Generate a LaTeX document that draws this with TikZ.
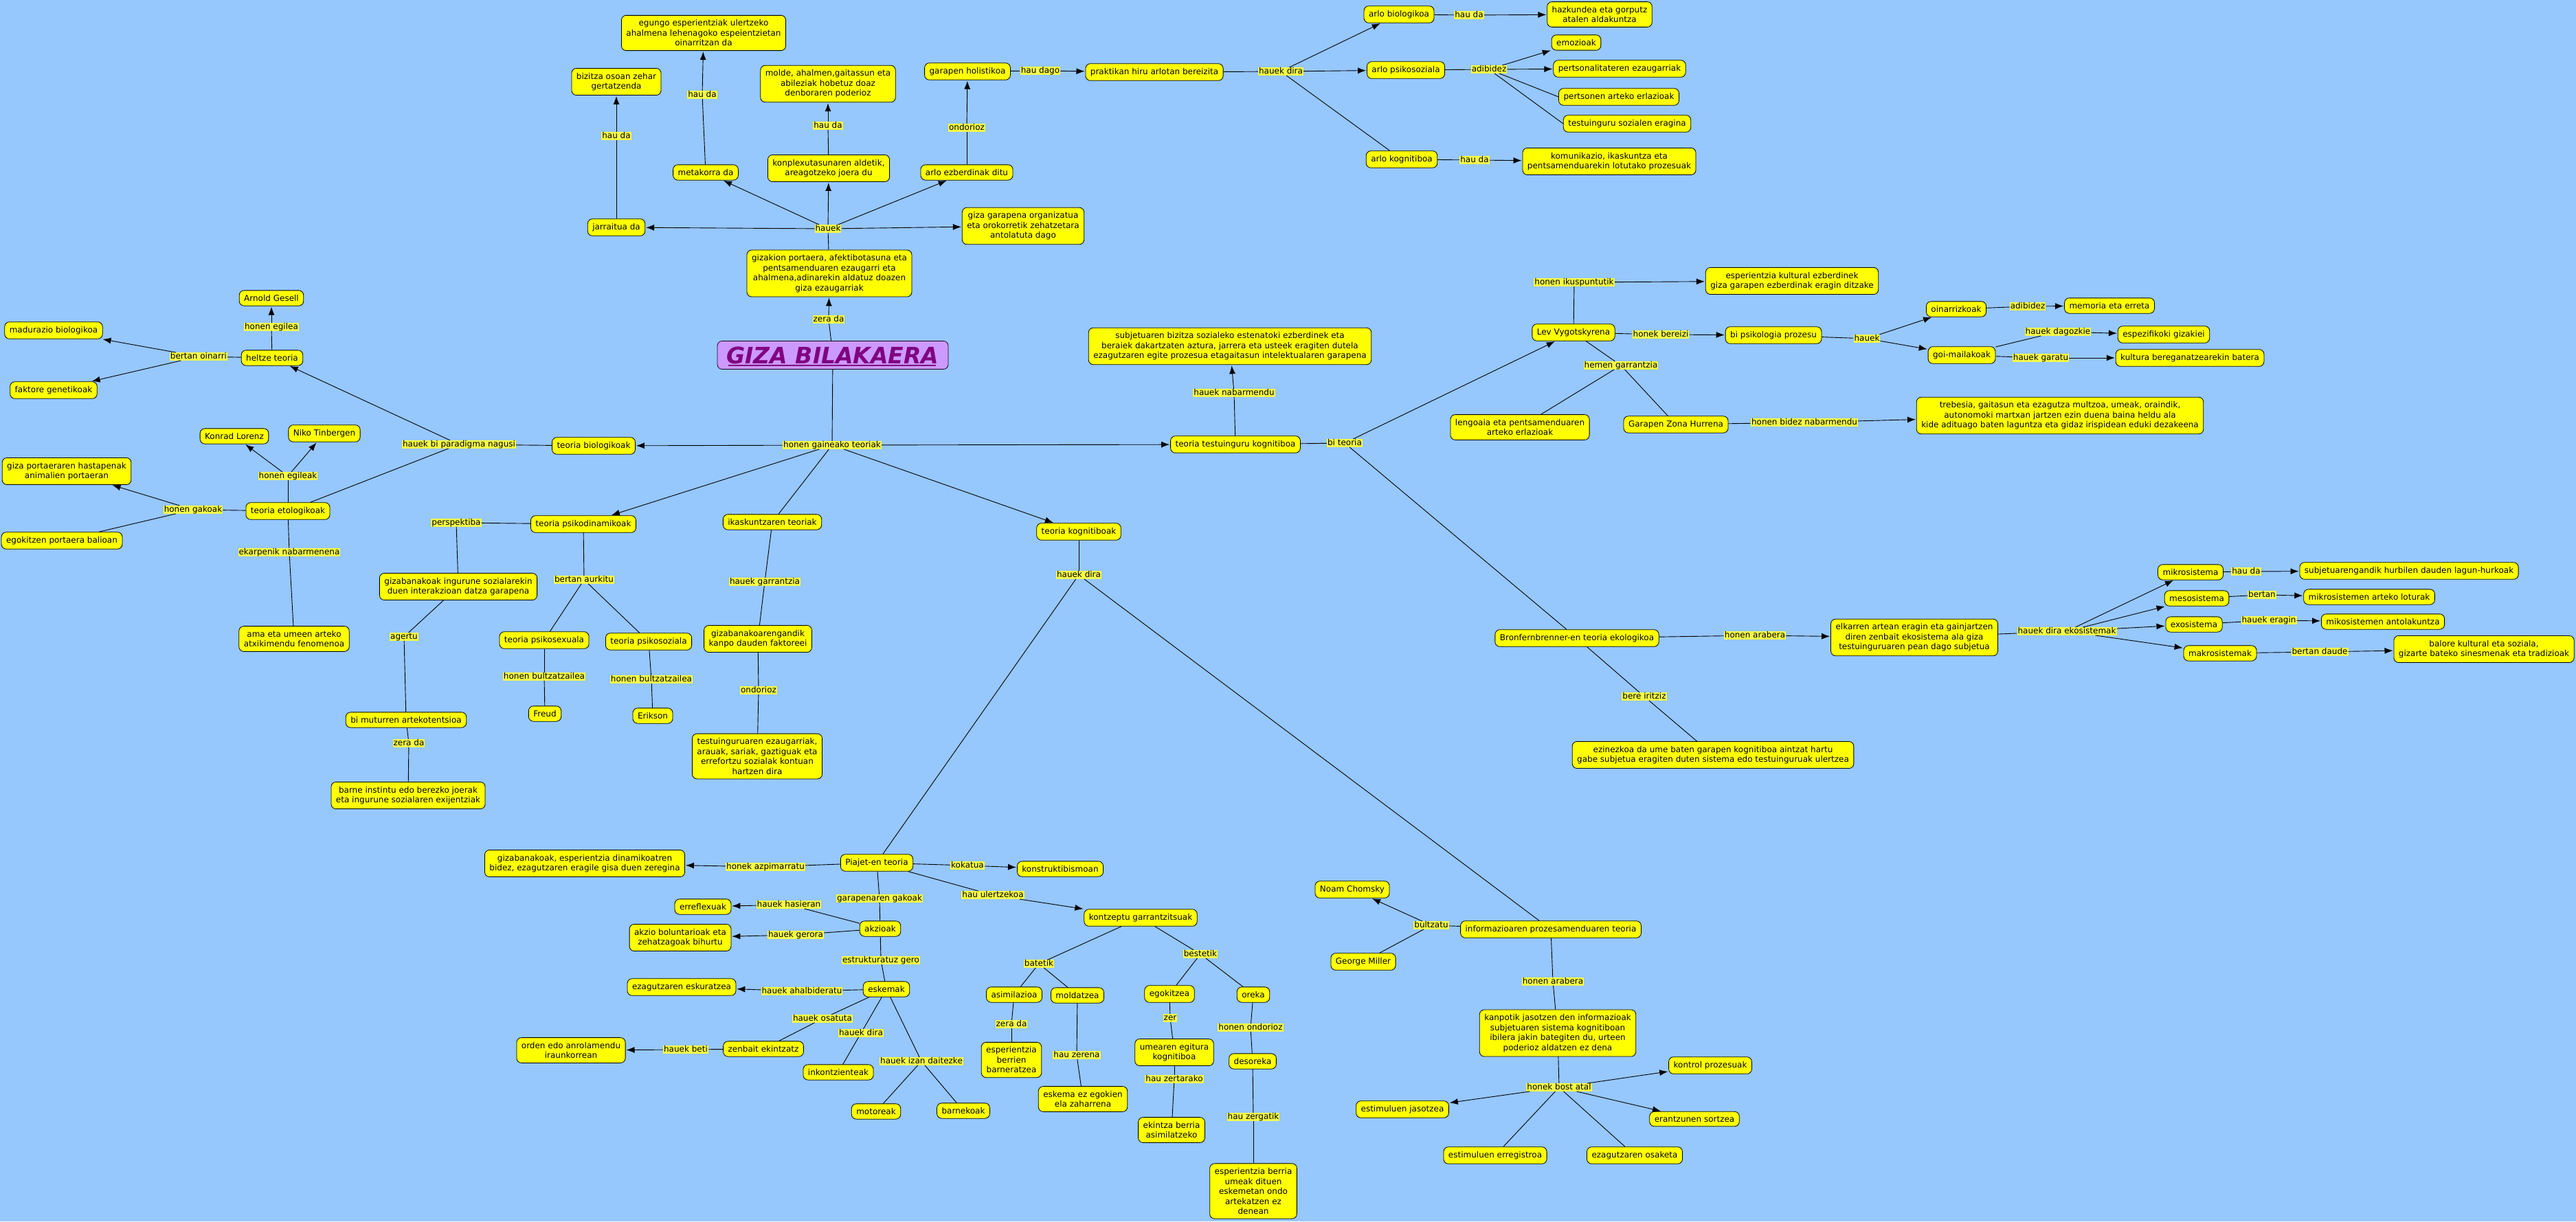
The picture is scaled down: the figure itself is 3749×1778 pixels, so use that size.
\documentclass[tikz,border=0pt]{standalone}
\usepackage{fontspec}
\setmainfont{DejaVu Sans}
\usetikzlibrary{arrows.meta,calc}
\definecolor{bgblue}{RGB}{150,199,253}
\definecolor{cyel}{RGB}{255,255,0}
\definecolor{lyel}{RGB}{245,250,70}
\definecolor{gizafill}{RGB}{204,153,255}
\definecolor{gizatext}{RGB}{128,0,128}
\newcommand{\cfont}{\fontsize{12}{14.5}\selectfont}
\newcommand{\gfont}{\fontsize{33}{38}\selectfont\bfseries\itshape}
\tikzset{
  concept/.style={draw=black, line width=0.8pt, fill=cyel, rounded corners=7pt,
    inner xsep=7pt, inner ysep=6.5pt, align=center, font=\cfont},
  lab/.style={fill=lyel, inner xsep=1pt, inner ysep=0pt, text height=9pt,
    text depth=2.5pt, font=\cfont},
  con/.style={draw=black, line width=0.9pt},
  arr/.style={con, -{Latex[length=12pt,width=9pt]}, shorten >=1pt},
}
\begin{document}
\begin{tikzpicture}[x=1pt,y=-1pt]
\useasboundingbox (0,0) rectangle (3749,1778);
\fill[bgblue] (0,0) rectangle (3749,1778);

% ---------- top cluster ----------
\node[concept] (bizitza) at (897,119) {bizitza osoan zehar\\gertatzenda};
\node[lab] (lhauda1) at (897,198) {hau da};
\node[concept] (jarraitua) at (897,331) {jarraitua da};
\node[concept] (egungo) at (1024,48) {egungo esperientziak ulertzeko\\ahalmena lehenagoko espeientzietan\\oinarritzan da};
\node[lab] (lhauda2) at (1022,138) {hau da};
\node[concept] (metakorra) at (1027,251) {metakorra da};
\node[concept] (molde) at (1205,122) {molde, ahalmen,gaitassun eta\\abileziak hobetuz doaz\\denboraren poderioz};
\node[lab] (lhauda3) at (1205,183) {hau da};
\node[concept] (konplex) at (1206,245) {konplexutasunaren aldetik,\\areagotzeko joera du};
\node[concept] (holistikoa) at (1408,104) {garapen holistikoa};
\node[lab] (lhaudago) at (1514,103) {hau dago};
\node[concept] (praktikan) at (1680,105) {praktikan hiru arlotan bereizita};
\node[lab] (londorioz1) at (1407,186) {ondorioz};
\node[concept] (arloezb) at (1407,251) {arlo ezberdinak ditu};
\node[lab] (lhauek1) at (1205,333) {hauek};
\node[concept] (organizatua) at (1489,329) {giza garapena organizatua\\eta orokorretik zehatzetara\\antolatuta dago};
\node[concept] (gizakion) at (1207,398) {gizakion portaera, afektibotasuna eta\\pentsamenduaren ezaugarri eta\\ahalmena,adinarekin aldatuz doazen\\giza ezaugarriak};
\node[lab] (lzerada1) at (1206,465) {zera da};
\node[concept, fill=gizafill, draw=black!80!gizatext, minimum width=336pt, minimum height=41pt, font=\gfont, text=gizatext, inner ysep=2pt] (giza) at (1212,517) {GIZA BILAKAERA};
\draw[gizatext, line width=2pt] ($(giza.base)+(-152,3)$) -- ($(giza.base)+(150,3)$);

% ---------- arlo cluster ----------
\node[lab] (lhauekdira1) at (1864,104) {hauek dira};
\node[concept] (arlobio) at (2036,21) {arlo biologikoa};
\node[lab] (lhauda4) at (2138,22) {hau da};
\node[concept] (hazkundea) at (2328,21) {hazkundea eta gorputz\\atalen aldakuntza};
\node[concept] (arlopsi) at (2046,102) {arlo psikosoziala};
\node[lab] (ladibidez1) at (2167,101) {adibidez};
\node[concept] (emozioak) at (2294,62) {emozioak};
\node[concept] (pertsonalitate) at (2357,100) {pertsonalitateren ezaugarriak};
\node[concept] (pertsonen) at (2356,141) {pertsonen arteko erlazioak};
\node[concept] (testsoz) at (2368,180) {testuinguru sozialen eragina};
\node[concept] (arlokog) at (2040,232) {arlo kognitiboa};
\node[lab] (lhauda5) at (2146,233) {hau da};
\node[concept] (komunikazio) at (2342,235) {komunikazio, ikaskuntza eta\\pentsamenduarekin lotutako prozesuak};

% ---------- theories ----------
\node[lab] (lgaineako) at (1211,648) {honen gaineako teoriak};
\node[concept] (biologikoak) at (864,649) {teoria biologikoak};
\node[concept] (testkog) at (1798,647) {teoria testuinguru kognitiboa};
\node[concept] (psikodin) at (849,763) {teoria psikodinamikoak};
\node[concept] (ikaskuntza) at (1124,760) {ikaskuntzaren teoriak};
\node[concept] (kognitiboak) at (1570,774) {teoria kognitiboak};
\node[lab] (lhauekgarr) at (1113,847) {hauek garrantzia};
\node[concept] (gizabkanpo) at (1103,930) {gizabanakoarengandik\\kanpo dauden faktoreei};
\node[lab] (londorioz2) at (1104,1005) {ondorioz};
\node[concept] (testezaug) at (1102,1101) {testuinguruaren ezaugarriak,\\arauak, sariak, gaztiguak eta\\errefortzu sozialak kontuan\\hartzen dira};

\node[lab] (lparadigma) at (668,647) {hauek bi paradigma nagusi};
\node[concept] (heltze) at (396,521) {heltze teoria};
\node[lab] (lhonenegilea) at (395,476) {honen egilea};
\node[concept] (gesell) at (395,434) {Arnold Gesell};
\node[lab] (loinarri) at (289,519) {bertan oinarri};
\node[concept] (madurazio) at (78,481) {madurazio biologikoa};
\node[concept] (faktore) at (78,568) {faktore genetikoak};
\node[concept] (lorenz) at (341,635) {Konrad Lorenz};
\node[concept] (tinbergen) at (472,631) {Niko Tinbergen};
\node[lab] (legileak) at (419,693) {honen egileak};
\node[concept] (etologikoak) at (419,744) {teoria etologikoak};
\node[lab] (lgakoak) at (281,742) {honen gakoak};
\node[concept] (hastapenak) at (97,686) {giza portaeraren hastapenak\\animalien portaeran};
\node[concept] (egokitzen) at (90,787) {egokitzen portaera balioan};
\node[lab] (lekarpenik) at (421,804) {ekarpenik nabarmenena};
\node[concept] (atxikimendu) at (428,930) {ama eta umeen arteko\\atxikimendu fenomenoa};
\node[lab] (lperspektiba) at (664,761) {perspektiba};
\node[concept] (gizabingurune) at (667,854) {gizabanakoak ingurune sozialarekin\\duen interakzioan datza garapena};
\node[lab] (laurkitu) at (850,844) {bertan aurkitu};
\node[lab] (lagertu) at (588,927) {agertu};
\node[concept] (psikosexuala) at (792,932) {teoria psikosexuala};
\node[lab] (lbultz1) at (792,985) {honen bultzatzailea};
\node[concept] (freud) at (793,1039) {Freud};
\node[concept] (psikosoziala) at (944,934) {teoria psikosoziala};
\node[lab] (lbultz2) at (948,989) {honen bultzatzailea};
\node[concept] (erikson) at (950,1042) {Erikson};
\node[concept] (muturren) at (591,1048) {bi muturren artekotentsioa};
\node[lab] (lzerada2) at (595,1082) {zera da};
\node[concept] (barne) at (594,1158) {barne instintu edo berezko joerak\\eta ingurune sozialaren exijentziak};

% ---------- cognitive ----------
\node[lab] (lhauekdira2) at (1570,837) {hauek dira};
\node[concept] (piajet) at (1276,1256) {Piajet-en teoria};
\node[lab] (lazpim) at (1114,1262) {honek azpimarratu};
\node[concept] (dinamiko) at (851,1257) {gizabanakoak, esperientzia dinamikoatren\\bidez, ezagutzaren eragile gisa duen zeregina};
\node[lab] (lkokatua) at (1408,1260) {kokatua};
\node[concept] (konstrukt) at (1543,1265) {konstruktibismoan};
\node[lab] (lgakoak2) at (1280,1308) {garapenaren gakoak};
\node[lab] (lulertzekoa) at (1445,1303) {hau ulertzekoa};
\node[concept] (kontzeptu) at (1660,1336) {kontzeptu garrantzitsuak};
\node[concept] (erreflexuak) at (1023,1320) {erreflexuak};
\node[lab] (lhasieran) at (1148,1317) {hauek hasieran};
\node[concept] (akzioak) at (1281,1352) {akzioak};
\node[lab] (lgerora) at (1158,1361) {hauek gerora};
\node[concept] (boluntario) at (990,1365) {akzio boluntarioak eta\\zehatzagoak bihurtu};
\node[lab] (lestrukt) at (1282,1398) {estrukturatuz gero};
\node[concept] (eskemak) at (1290,1440) {eskemak};
\node[lab] (lahalb) at (1167,1443) {hauek ahalbideratu};
\node[concept] (eskuratzea) at (992,1437) {ezagutzaren eskuratzea};
\node[lab] (losatuta) at (1197,1483) {hauek osatuta};
\node[lab] (ldira3) at (1253,1504) {hauek dira};
\node[concept] (zenbait) at (1111,1527) {zenbait ekintzatz};
\node[lab] (lbeti) at (998,1528) {hauek beti};
\node[concept] (orden) at (831,1529) {orden edo anrolamendu\\iraunkorrean};
\node[concept] (inkontz) at (1220,1561) {inkontzienteak};
\node[lab] (ldaitezke) at (1341,1545) {hauek izan daitezke};
\node[concept] (motoreak) at (1275,1618) {motoreak};
\node[concept] (barnekoak) at (1402,1617) {barnekoak};
\node[lab] (lbatetik) at (1512,1403) {batetik};
\node[lab] (lbestetik) at (1747,1389) {bestetik};
\node[concept] (asimilazioa) at (1476,1448) {asimilazioa};
\node[concept] (moldatzea) at (1568,1449) {moldatzea};
\node[lab] (lzerada3) at (1472,1491) {zera da};
\node[concept] (barneratzea) at (1472,1543) {esperientzia\\berrien\\barneratzea};
\node[lab] (lzerena) at (1567,1536) {hau zerena};
\node[concept] (ezegokien) at (1576,1600) {eskema ez egokien\\ela zaharrena};
\node[concept] (egokitzea) at (1702,1447) {egokitzea};
\node[lab] (lzer) at (1703,1482) {zer};
\node[concept] (egitura) at (1709,1532) {umearen egitura\\kognitiboa};
\node[lab] (lzertarako) at (1709,1571) {hau zertarako};
\node[concept] (ekintzaberria) at (1705,1645) {ekintza berria\\asimilatzeko};
\node[concept] (oreka) at (1824,1448) {oreka};
\node[lab] (londorioz3) at (1820,1496) {honen ondorioz};
\node[concept] (desoreka) at (1823,1545) {desoreka};
\node[lab] (lzergatik) at (1824,1626) {hau zergatik};
\node[concept] (espberria) at (1824,1734) {esperientzia berria\\umeak dituen\\eskemetan ondo\\artekatzen ez\\denean};

% ---------- information processing ----------
\node[concept] (informazio) at (2257,1353) {informazioaren prozesamenduaren teoria};
\node[lab] (lbultzatu) at (2083,1347) {bultzatu};
\node[concept] (chomsky) at (1968,1295) {Noam Chomsky};
\node[concept] (miller) at (1984,1400) {George Miller};
\node[lab] (larabera1) at (2260,1429) {honen arabera};
\node[concept] (kanpotik) at (2267,1504) {kanpotik jasotzen den informazioak\\subjetuaren sistema kognitiboan\\ibilera jakin bategiten du, urteen\\poderioz aldatzen ez dena};
\node[lab] (lbost) at (2269,1583) {honek bost atal};
\node[concept] (kontrol) at (2489,1551) {kontrol prozesuak};
\node[concept] (jasotzea) at (2041,1615) {estimuluen jasotzea};
\node[concept] (sortzea) at (2466,1629) {erantzunen sortzea};
\node[concept] (erregistroa) at (2176,1682) {estimuluen erregistroa};
\node[concept] (osaketa) at (2379,1682) {ezagutzaren osaketa};

% ---------- context theories ----------
\node[lab] (lnabarmendu) at (1796,572) {hauek nabarmendu};
\node[concept] (subjetuaren) at (1790,504) {subjetuaren bizitza sozialeko estenatoki ezberdinek eta\\beraiek dakartzaten aztura, jarrera eta usteek eragiten dutela\\ezagutzaren egite prozesua etagaitasun intelektualaren garapena};
\node[lab] (lbiteoria) at (1957,645) {bi teoria};
\node[concept] (lev) at (2290,484) {Lev Vygotskyrena};
\node[lab] (likuspuntutik) at (2291,411) {honen ikuspuntutik};
\node[concept] (kultural) at (2608,409) {esperientzia kultural ezberdinek\\giza garapen ezberdinak eragin ditzake};
\node[lab] (lbereizi) at (2417,487) {honek bereizi};
\node[concept] (biprozesu) at (2581,488) {bi psikologia prozesu};
\node[lab] (lhauek2) at (2717,493) {hauek};
\node[concept] (oinarrizkoak) at (2847,450) {oinarrizkoak};
\node[lab] (ladibidez2) at (2951,446) {adibidez};
\node[concept] (memoria) at (3070,445) {memoria eta erreta};
\node[concept] (goimaila) at (2855,517) {goi-mailakoak};
\node[lab] (ldagozkie) at (2995,483) {hauek dagozkie};
\node[concept] (espezifikoki) at (3149,487) {espezifikoki gizakiei};
\node[lab] (lgaratu) at (2970,521) {hauek garatu};
\node[concept] (kultura) at (3187,521) {kultura bereganatzearekin batera};
\node[lab] (lgarrantzia2) at (2359,532) {hemen garrantzia};
\node[concept] (lengoaia) at (2212,622) {lengoaia eta pentsamenduaren\\arteko erlazioak};
\node[concept] (zona) at (2439,618) {Garapen Zona Hurrena};
\node[lab] (lbidez) at (2626,615) {honen bidez nabarmendu};
\node[concept] (trebesia) at (2998,605) {trebesia, gaitasun eta ezagutza multzoa, umeak, oraindik,\\autonomoki martxan jartzen ezin duena baina heldu ala\\kide adituago baten laguntza eta gidaz irispidean eduki dezakeena};
\node[concept] (bronf) at (2295,929) {Bronfernbrenner-en teoria ekologikoa};
\node[lab] (larabera2) at (2554,925) {honen arabera};
\node[concept] (elkarren) at (2786,928) {elkarren artean eragin eta gainjartzen\\diren zenbait ekosistema ala giza\\testuinguruaren pean dago subjetua};
\node[lab] (liritziz) at (2393,1014) {bere iritziz};
\node[concept] (ezinezkoa) at (2493,1099) {ezinezkoa da ume baten garapen kognitiboa aintzat hartu\\gabe subjetua eragiten duten sistema edo testuinguruak ulertzea};
\node[lab] (lekosist) at (3008,919) {hauek dira ekosistemak};
\node[concept] (mikro) at (3188,833) {mikrosistema};
\node[lab] (lhauda6) at (3269,832) {hau da};
\node[concept] (lagun) at (3506,831) {subjetuarengandik hurbilen dauden lagun-hurkoak};
\node[concept] (meso) at (3197,871) {mesosistema};
\node[lab] (lbertan) at (3292,866) {bertan};
\node[concept] (loturak) at (3448,869) {mikrosistemen arteko loturak};
\node[concept] (exo) at (3193,909) {exosistema};
\node[lab] (leragin) at (3302,903) {hauek eragin};
\node[concept] (antolak) at (3468,905) {mikosistemen antolakuntza};
\node[concept] (makro) at (3231,951) {makrosistemak};
\node[lab] (ldaude) at (3376,949) {bertan daude};
\node[concept] (balore) at (3615,945) {balore kultural eta soziala,\\gizarte bateko sinesmenak eta tradizioak};

% ================= connectors =================
\draw[con] (giza) -- (lzerada1); \draw[arr] (lzerada1) -- (gizakion);
\draw[con] (gizakion) -- (lhauek1);
\draw[arr] (lhauek1) -- (metakorra);
\draw[arr] (lhauek1) -- (konplex);
\draw[arr] (lhauek1) -- (arloezb);
\draw[arr] (lhauek1) -- (jarraitua);
\draw[arr] (lhauek1) -- (organizatua);
\draw[con] (jarraitua) -- (lhauda1); \draw[arr] (lhauda1) -- (bizitza);
\draw[con] (metakorra) -- (lhauda2); \draw[arr] (lhauda2) -- (egungo);
\draw[con] (konplex) -- (lhauda3); \draw[arr] (lhauda3) -- (molde);
\draw[con] (arloezb) -- (londorioz1); \draw[arr] (londorioz1) -- (holistikoa);
\draw[con] (holistikoa) -- (lhaudago); \draw[arr] (lhaudago) -- (praktikan);
\draw[con] (praktikan) -- (lhauekdira1);
\draw[arr] (lhauekdira1) -- (arlobio);
\draw[arr] (lhauekdira1) -- (arlopsi);
\draw[con] (lhauekdira1) -- (arlokog);
\draw[con] (arlobio) -- (lhauda4); \draw[arr] (lhauda4) -- (hazkundea);
\draw[con] (arlopsi) -- (ladibidez1);
\draw[arr] (ladibidez1) -- (emozioak);
\draw[arr] (ladibidez1) -- (pertsonalitate);
\draw[con] (ladibidez1) -- (pertsonen.west);
\draw[con] (ladibidez1) -- (testsoz.west);
\draw[con] (arlokog) -- (lhauda5); \draw[arr] (lhauda5) -- (komunikazio);

\draw[con] (giza) -- (lgaineako);
\draw[arr] (lgaineako) -- (biologikoak);
\draw[arr] (lgaineako) -- (testkog);
\draw[arr] (lgaineako) -- (psikodin);
\draw[con] (lgaineako) -- (ikaskuntza);
\draw[arr] (lgaineako) -- (kognitiboak);

\draw[con] (biologikoak) -- (lparadigma);
\draw[arr] (lparadigma) -- (heltze);
\draw[con] (lparadigma) -- (etologikoak);
\draw[con] (heltze) -- (lhonenegilea); \draw[arr] (lhonenegilea) -- (gesell);
\draw[con] (heltze) -- (loinarri);
\draw[arr] (loinarri) -- (madurazio);
\draw[arr] (loinarri) -- (faktore);
\draw[con] (etologikoak) -- (legileak);
\draw[arr] (legileak) -- (lorenz);
\draw[arr] (legileak) -- (tinbergen);
\draw[con] (etologikoak) -- (lgakoak);
\draw[arr] (lgakoak) -- (hastapenak);
\draw[con] (lgakoak) -- (egokitzen);
\draw[con] (etologikoak) -- (lekarpenik); \draw[con] (lekarpenik) -- (atxikimendu);

\draw[con] (psikodin) -- (lperspektiba); \draw[con] (lperspektiba) -- (gizabingurune);
\draw[con] (gizabingurune) -- (lagertu); \draw[con] (lagertu) -- (muturren);
\draw[con] (muturren) -- (lzerada2); \draw[con] (lzerada2) -- (barne);
\draw[con] (psikodin) -- (laurkitu);
\draw[con] (laurkitu) -- (psikosexuala);
\draw[con] (laurkitu) -- (psikosoziala);
\draw[con] (psikosexuala) -- (lbultz1); \draw[con] (lbultz1) -- (freud);
\draw[con] (psikosoziala) -- (lbultz2); \draw[con] (lbultz2) -- (erikson);

\draw[con] (ikaskuntza) -- (lhauekgarr); \draw[con] (lhauekgarr) -- (gizabkanpo);
\draw[con] (gizabkanpo) -- (londorioz2); \draw[con] (londorioz2) -- (testezaug);

\draw[con] (kognitiboak) -- (lhauekdira2);
\draw[con] (lhauekdira2) -- (piajet);
\draw[con] (lhauekdira2) -- (informazio);
\draw[con] (piajet) -- (lazpim); \draw[arr] (lazpim) -- (dinamiko);
\draw[con] (piajet) -- (lkokatua); \draw[arr] (lkokatua) -- (konstrukt);
\draw[con] (piajet) -- (lulertzekoa); \draw[arr] (lulertzekoa) -- (kontzeptu);
\draw[con] (piajet) -- (lgakoak2); \draw[con] (lgakoak2) -- (akzioak);
\draw[con] (akzioak) -- (lhasieran); \draw[arr] (lhasieran) -- (erreflexuak);
\draw[con] (akzioak) -- (lgerora); \draw[arr] (lgerora) -- (boluntario);
\draw[con] (akzioak) -- (lestrukt); \draw[con] (lestrukt) -- (eskemak);
\draw[con] (eskemak) -- (lahalb); \draw[arr] (lahalb) -- (eskuratzea);
\draw[con] (eskemak) -- (losatuta); \draw[con] (losatuta) -- (zenbait);
\draw[con] (zenbait) -- (lbeti); \draw[arr] (lbeti) -- (orden);
\draw[con] (eskemak) -- (ldira3); \draw[con] (ldira3) -- (inkontz);
\draw[con] (eskemak) -- (ldaitezke);
\draw[con] (ldaitezke) -- (motoreak);
\draw[con] (ldaitezke) -- (barnekoak);
\draw[con] (kontzeptu) -- (lbatetik);
\draw[con] (lbatetik) -- (asimilazioa);
\draw[con] (lbatetik) -- (moldatzea);
\draw[con] (kontzeptu) -- (lbestetik);
\draw[con] (lbestetik) -- (egokitzea);
\draw[con] (lbestetik) -- (oreka);
\draw[con] (asimilazioa) -- (lzerada3); \draw[con] (lzerada3) -- (barneratzea);
\draw[con] (moldatzea) -- (lzerena); \draw[con] (lzerena) -- (ezegokien);
\draw[con] (egokitzea) -- (lzer); \draw[con] (lzer) -- (egitura);
\draw[con] (egitura) -- (lzertarako); \draw[con] (lzertarako) -- (ekintzaberria);
\draw[con] (oreka) -- (londorioz3); \draw[con] (londorioz3) -- (desoreka);
\draw[con] (desoreka) -- (lzergatik); \draw[con] (lzergatik) -- (espberria);

\draw[con] (informazio) -- (lbultzatu);
\draw[arr] (lbultzatu) -- (chomsky);
\draw[con] (lbultzatu) -- (miller);
\draw[con] (informazio) -- (larabera1); \draw[con] (larabera1) -- (kanpotik);
\draw[con] (kanpotik) -- (lbost);
\draw[arr] (lbost) -- (kontrol);
\draw[arr] (lbost) -- (jasotzea);
\draw[arr] (lbost) -- (sortzea);
\draw[con] (lbost) -- (erregistroa);
\draw[con] (lbost) -- (osaketa);

\draw[con] (testkog) -- (lnabarmendu); \draw[arr] (lnabarmendu) -- (subjetuaren);
\draw[con] (testkog) -- (lbiteoria);
\draw[arr] (lbiteoria) -- (lev);
\draw[con] (lbiteoria) -- (bronf);
\draw[con] (lev) -- (likuspuntutik); \draw[arr] (likuspuntutik) -- (kultural);
\draw[con] (lev) -- (lbereizi); \draw[arr] (lbereizi) -- (biprozesu);
\draw[con] (biprozesu) -- (lhauek2);
\draw[arr] (lhauek2) -- (oinarrizkoak);
\draw[arr] (lhauek2) -- (goimaila);
\draw[con] (oinarrizkoak) -- (ladibidez2); \draw[arr] (ladibidez2) -- (memoria);
\draw[con] (goimaila) -- (ldagozkie); \draw[arr] (ldagozkie) -- (espezifikoki);
\draw[con] (goimaila) -- (lgaratu); \draw[arr] (lgaratu) -- (kultura);
\draw[con] (lev) -- (lgarrantzia2);
\draw[con] (lgarrantzia2) -- (lengoaia);
\draw[con] (lgarrantzia2) -- (zona);
\draw[con] (zona) -- (lbidez); \draw[arr] (lbidez) -- (trebesia);
\draw[con] (bronf) -- (larabera2); \draw[arr] (larabera2) -- (elkarren);
\draw[con] (bronf) -- (liritziz); \draw[con] (liritziz) -- (ezinezkoa);
\draw[con] (elkarren) -- (lekosist);
\draw[arr] (lekosist) -- (mikro);
\draw[arr] (lekosist) -- (meso);
\draw[arr] (lekosist) -- (exo);
\draw[arr] (lekosist) -- (makro);
\draw[con] (mikro) -- (lhauda6); \draw[arr] (lhauda6) -- (lagun);
\draw[con] (meso) -- (lbertan); \draw[arr] (lbertan) -- (loturak);
\draw[con] (exo) -- (leragin); \draw[arr] (leragin) -- (antolak);
\draw[con] (makro) -- (ldaude); \draw[arr] (ldaude) -- (balore);
\end{tikzpicture}
\end{document}
